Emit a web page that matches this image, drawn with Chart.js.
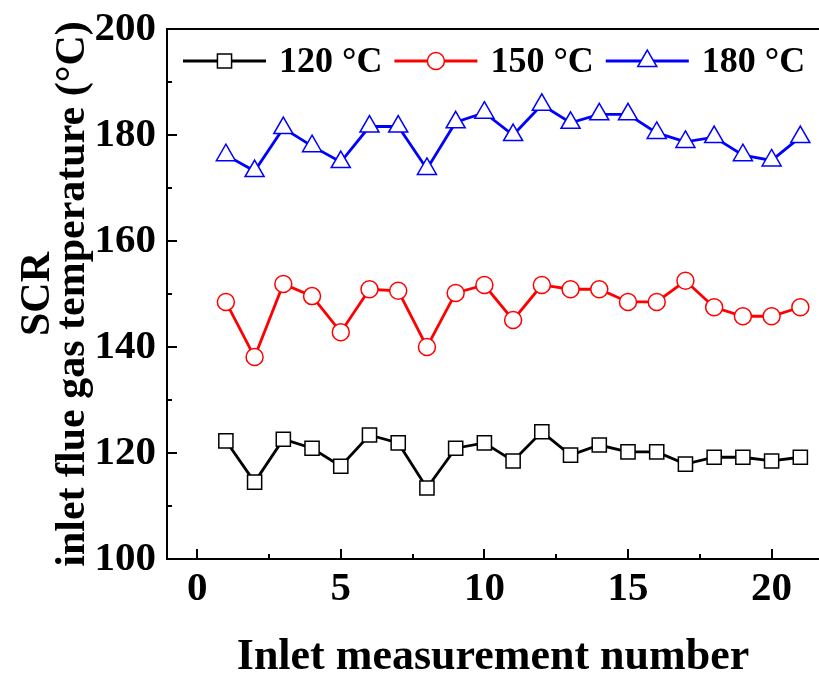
<!DOCTYPE html>
<html>
<head>
<meta charset="utf-8">
<script src="https://cdn.jsdelivr.net/npm/chart.js@4.4.0/dist/chart.umd.min.js"></script>
<style>
    html, body { margin: 0; padding: 0; background: #fff; }
    #wrap { width: 819px; height: 675px; }
</style>
</head>
<body>
<div id="wrap"><canvas id="tempChart" width="819" height="675"></canvas></div>
<script>
const measurementNo = [1, 2, 3, 4, 5, 6, 7, 8, 9, 10, 11, 12, 13, 14, 15, 16, 17, 18, 19, 20, 21];
const temp120 = [122.3, 114.5, 122.6, 120.9, 117.5, 123.4, 121.9, 113.4, 120.9, 121.9, 118.5, 124.0, 119.6, 121.5, 120.2, 120.2, 117.9, 119.2, 119.2, 118.5, 119.2];
const temp150 = [148.5, 138.1, 151.9, 149.6, 142.8, 150.9, 150.6, 140.0, 150.2, 151.7, 145.1, 151.7, 150.9, 150.9, 148.5, 148.5, 152.5, 147.5, 145.8, 145.8, 147.5];
const temp180 = [176.2, 173.2, 181.3, 177.9, 174.9, 181.6, 181.6, 173.6, 182.4, 184.2, 180.0, 185.7, 182.3, 183.9, 183.9, 180.4, 178.7, 179.6, 176.2, 175.2, 179.6];
const seriesLabels = ['120 °C', '150 °C', '180 °C'];

const xTickValues = [0, 5, 10, 15, 20];
const xMinorValues = [2.5, 7.5, 12.5, 17.5];
const yTickValues = [100, 120, 140, 160, 180, 200];
const yMinorValues = [110, 130, 150, 170, 190];

const FONT = '"Liberation Serif", "Times New Roman", serif';

function toPoints(values) {
    return values.map(function(v, i) { return { x: measurementNo[i], y: v }; });
}

// inward ticks, top frame line and the in-plot legend
const framePlugin = {
    id: 'framePlugin',
    afterDraw: function(chart) {
        const ctx = chart.ctx;
        const area = chart.chartArea;
        const xs = chart.scales.x;
        const ys = chart.scales.y;
        ctx.save();
        ctx.strokeStyle = '#000';
        ctx.lineWidth = 2;

        ctx.beginPath();
        ctx.moveTo(area.left - 1, area.top);
        ctx.lineTo(area.right, area.top);
        ctx.stroke();

        function xTick(v, len) {
            const px = Math.round(xs.getPixelForValue(v));
            ctx.beginPath();
            ctx.moveTo(px, area.bottom);
            ctx.lineTo(px, area.bottom - len);
            ctx.stroke();
        }
        function yTick(v, len) {
            const py = Math.round(ys.getPixelForValue(v));
            ctx.beginPath();
            ctx.moveTo(area.left, py);
            ctx.lineTo(area.left + len, py);
            ctx.stroke();
        }
        xTickValues.forEach(function(v) { xTick(v, 10); });
        xMinorValues.forEach(function(v) { xTick(v, 5); });
        yTickValues.forEach(function(v) { if (v > ys.min && v < ys.max) yTick(v, 10); });
        yMinorValues.forEach(function(v) { yTick(v, 5); });

        // legend
        const legendY = area.top + 32;
        let lx = area.left + 16;
        ctx.font = 'bold 36px ' + FONT;
        ctx.textBaseline = 'middle';
        ctx.textAlign = 'left';
        chart.data.datasets.forEach(function(ds) {
            ctx.strokeStyle = ds.borderColor;
            ctx.lineWidth = ds.borderWidth;
            ctx.beginPath();
            ctx.moveTo(lx, legendY);
            ctx.lineTo(lx + 83, legendY);
            ctx.stroke();
            ctx.fillStyle = ds.pointBackgroundColor;
            ctx.strokeStyle = ds.pointBorderColor;
            ctx.lineWidth = ds.pointBorderWidth;
            Chart.helpers.drawPoint(ctx, {
                pointStyle: ds.pointStyle,
                radius: ds.pointRadius,
                borderWidth: ds.pointBorderWidth,
                rotation: 0
            }, lx + 41.5, legendY);
            ctx.fillStyle = '#000';
            ctx.fillText(ds.label, lx + 96, legendY + 2);
            lx += 96 + ctx.measureText(ds.label).width + 12;
        });
        ctx.restore();
    }
};

const tempCtx = document.getElementById('tempChart');
new Chart(tempCtx, {
    type: 'line',
    data: {
        datasets: [
            {
                label: seriesLabels[0],
                data: toPoints(temp120),
                borderColor: '#000000',
                borderWidth: 2.8,
                pointStyle: 'rect',
                pointRadius: 10,
                pointBorderWidth: 1.5,
                pointBackgroundColor: '#ffffff',
                pointBorderColor: '#000000',
                tension: 0
            },
            {
                label: seriesLabels[1],
                data: toPoints(temp150),
                borderColor: '#ff0000',
                borderWidth: 2.8,
                pointStyle: 'circle',
                pointRadius: 8.5,
                pointBorderWidth: 1.5,
                pointBackgroundColor: '#ffffff',
                pointBorderColor: '#ff0000',
                tension: 0
            },
            {
                label: seriesLabels[2],
                data: toPoints(temp180),
                borderColor: '#0000ff',
                borderWidth: 2.8,
                pointStyle: 'triangle',
                pointRadius: 11,
                pointBorderWidth: 1.5,
                pointBackgroundColor: '#ffffff',
                pointBorderColor: '#0000ff',
                tension: 0
            }
        ]
    },
    options: {
        responsive: false,
        animation: false,
        layout: { autoPadding: false, padding: { top: 29, right: 0, bottom: 0, left: 0 } },
        plugins: {
            legend: { display: false },
            tooltip: { enabled: false }
        },
        scales: {
            x: {
                type: 'linear',
                min: -1.05,
                max: 21.65,
                afterBuildTicks: function(scale) {
                    scale.ticks = xTickValues.map(function(v) { return { value: v }; });
                },
                afterFit: function(scale) {
                    scale.height = 116;
                    scale.paddingLeft = 0;
                    scale.paddingRight = 0;
                },
                grid: { display: false, drawTicks: false },
                border: { display: true, color: '#000', width: 2 },
                ticks: {
                    padding: 6,
                    maxRotation: 0,
                    autoSkip: false,
                    color: '#000',
                    font: { family: FONT, size: 41, weight: 'bold' }
                },
                title: {
                    display: true,
                    text: 'Inlet measurement number',
                    color: '#000',
                    font: { family: FONT, size: 44, weight: 'bold', lineHeight: 0.8 },
                    padding: { top: 0, bottom: 0 }
                }
            },
            y: {
                min: 100,
                max: 200,
                afterBuildTicks: function(scale) {
                    scale.ticks = yTickValues.map(function(v) { return { value: v }; });
                },
                afterFit: function(scale) {
                    scale.width = 167;
                    scale.paddingTop = 0;
                    scale.paddingBottom = 0;
                },
                grid: { display: false, drawTicks: false },
                border: { display: true, color: '#000', width: 2 },
                ticks: {
                    padding: 11,
                    color: '#000',
                    font: { family: FONT, size: 41, weight: 'bold' }
                },
                title: {
                    display: true,
                    text: ['SCR', 'inlet flue gas temperature (°C)'],
                    color: '#000',
                    font: { family: FONT, size: 42, weight: 'bold', lineHeight: 0.85 },
                    padding: { top: 20, bottom: 0 }
                }
            }
        }
    },
    plugins: [framePlugin]
});
</script>
</body>
</html>
